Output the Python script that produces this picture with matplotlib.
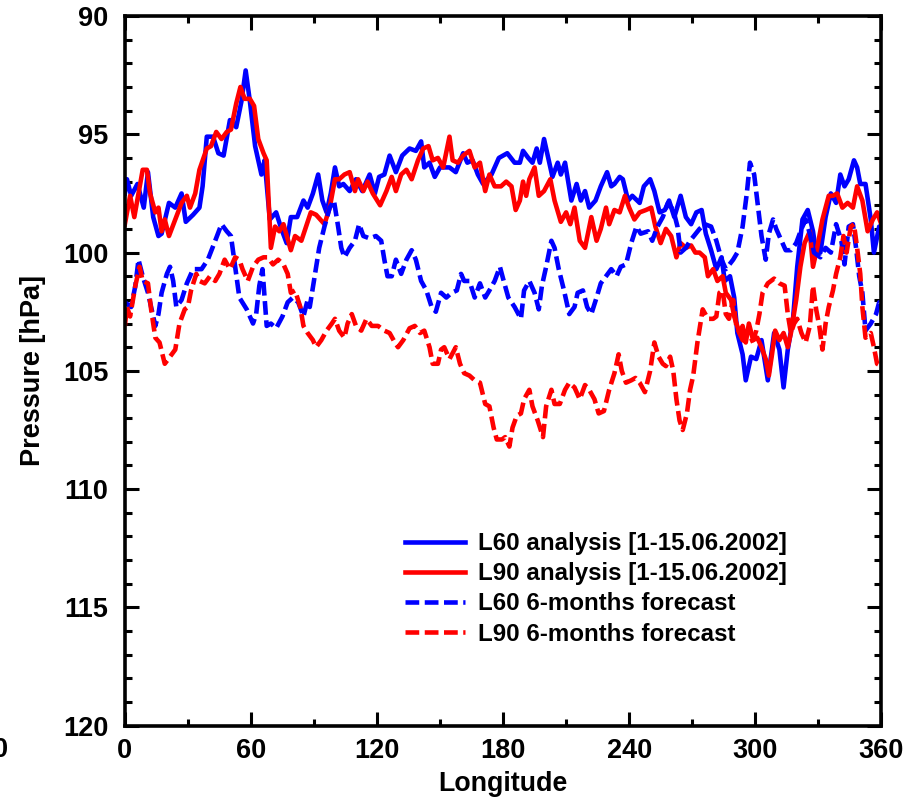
import matplotlib
matplotlib.use('Agg')
import matplotlib.pyplot as plt
from matplotlib.ticker import MultipleLocator

plt.rcParams['font.family'] = ['Liberation Sans', 'DejaVu Sans']
plt.rcParams['font.weight'] = 'bold'

# L60 analysis [1-15.06.2002]
lon_l60_an = [0, 1, 3, 6, 9, 11, 13.5, 16, 17.5, 21, 24, 27, 29, 32.5, 35.5, 37, 39, 42, 44.5, 47,
              50, 53, 55.5, 57.5, 59.5, 62, 65, 66.5, 69, 72, 74.5, 77, 79, 82, 85, 87, 89.5, 92,
              94, 96, 98, 100, 102, 104, 107, 110, 113, 116.5, 119, 121, 123.5, 126, 129, 132,
              135.5, 138.5, 141, 142.5, 145, 147.5, 150, 154.5, 157.5, 161, 163, 165.5, 168, 170.5,
              174.5, 178, 182, 185.5, 188, 189.5, 192, 194, 196, 197.5, 199.5, 201, 203.5, 206,
              207.5, 209.5, 212.5, 215, 217, 219, 221, 224, 226.5, 229.5, 231.5, 233, 235.5, 237,
              239.5, 241.5, 245, 247, 250, 252, 254.5, 257, 259, 261.5, 264.5, 267, 269.5, 272,
              274.5, 276.5, 279, 281.5, 284, 285.5, 288, 290, 291.5, 294, 295.5, 298, 300.5, 303,
              306, 309, 311.5, 313.5, 315.5, 318, 320, 322.5, 325, 327.5, 329, 331, 333.5, 336,
              338.5, 340.5, 342.5, 344.5, 347, 348.5, 350, 352.5, 355, 356.5, 359, 360]
p_l60_an = [97.5, 96.9, 97.6, 97.1, 98.1, 96.6, 98.5, 99.3, 99.2, 97.9, 98.1, 97.5, 98.7, 98.4, 98.1,
            97.2, 95.1, 95.1, 95.8, 95.9, 94.4, 94.7, 93.6, 92.3, 93.6, 95.5, 96.7, 96.1, 98.6, 98.3,
            99.0, 99.6, 98.5, 98.5, 97.8, 98.1, 97.5, 96.7, 97.8, 98.3, 97.5, 96.4, 97.2, 97.1, 97.4,
            96.9, 97.4, 96.7, 97.5, 96.8, 96.7, 95.9, 96.6, 95.9, 95.6, 95.7, 95.3, 96.4, 96.2, 96.8,
            96.4, 96.4, 96.6, 95.8, 96.2, 96.1, 96.7, 97.1, 96.7, 96.0, 95.8, 96.2, 96.2, 95.7, 96.0,
            96.2, 95.6, 96.2, 95.2, 95.8, 96.8, 96.2, 96.7, 96.2, 97.8, 97.1, 97.8, 97.4, 98.1, 97.8,
            97.2, 96.6, 97.2, 97.1, 96.8, 96.9, 97.8, 97.6, 97.9, 97.2, 96.9, 97.4, 98.3, 98.2, 97.8,
            98.5, 97.6, 98.5, 98.8, 98.3, 98.2, 99.2, 99.9, 100.7, 100.2, 101.2, 101.0, 101.9, 103.4,
            104.3, 105.4, 104.4, 104.5, 103.7, 105.4, 103.4, 104.1, 105.7, 104.1, 102.8, 100.6, 98.6,
            98.2, 99.1, 100.0, 100.0, 98.5, 97.5, 97.9, 96.7, 97.2, 96.9, 96.1, 96.4, 97.1, 97.1,
            98.6, 100.0, 98.9, 98.9]

# L90 analysis [1-15.06.2002]
lon_l90_an = [0, 2.5, 4.5, 6.5, 8.5, 10.5, 12, 14.5, 16, 17.5, 19, 21, 24, 27, 29.5, 31, 33.5, 35.5,
              39, 41, 43.5, 46, 48.5, 50.5, 53, 55, 57, 59.5, 61.5, 63.5, 66, 67.5, 69.5, 71.5, 73.5,
              75.5, 79, 81, 84, 85.5, 88.5, 91, 95, 97.5, 100, 102, 104.5, 107, 109.5, 111, 113.5,
              115.5, 118, 121.5, 124.5, 127, 129, 131.5, 134, 136.5, 139.5, 142, 144.5, 146.5, 149,
              151.5, 154.5, 156, 158.5, 161, 164, 166.5, 169, 171.5, 173.5, 176, 179, 181.5, 184,
              186, 188, 189.5, 191, 192.5, 195, 197, 199.5, 202.5, 204.5, 207.5, 210, 212, 214,
              216.5, 219, 222, 224.5, 226.5, 229, 230.5, 233, 235.5, 238, 240, 242.5, 245, 248,
              250.5, 252.5, 255, 257.5, 260, 262.5, 264.5, 267, 269.5, 271.5, 273.5, 276, 277.5,
              280, 282, 284.5, 286, 288.5, 290, 292.5, 294, 295.5, 297, 299, 301, 303, 305, 306.5,
              308, 309.5, 311.5, 313.5, 315.5, 317, 319.5, 321.5, 323.5, 326, 327.5, 329.5, 332,
              333.5, 335, 337, 339, 341.5, 344, 346.5, 348.5, 351, 353.5, 356, 358, 360]
p_l90_an = [98.8, 97.6, 98.5, 97.5, 96.5, 96.5, 97.5, 98.3, 98.1, 99.1, 98.6, 99.3, 98.6, 97.9, 97.6,
            98.1, 97.5, 96.5, 95.6, 95.5, 94.9, 95.2, 94.9, 94.8, 93.7, 93.0, 93.5, 93.5, 93.8, 95.2,
            95.8, 96.1, 99.8, 98.9, 99.1, 98.8, 99.9, 99.3, 99.5, 99.1, 98.3, 98.4, 98.8, 98.1, 96.9,
            96.9, 96.7, 96.6, 97.4, 96.9, 97.4, 97.0, 97.5, 98.0, 97.4, 96.8, 97.4, 96.7, 96.5, 96.9,
            96.1, 95.6, 95.5, 96.1, 96.0, 96.4, 95.1, 96.1, 96.2, 95.9, 95.7, 96.4, 96.2, 97.4, 96.7,
            97.2, 97.2, 97.0, 97.2, 98.2, 97.8, 97.0, 97.6, 96.9, 96.4, 97.6, 97.4, 96.9, 97.8, 98.7,
            98.3, 98.8, 98.1, 99.5, 99.8, 98.5, 99.5, 99.0, 98.1, 98.8, 98.2, 98.3, 97.6, 98.1, 98.6,
            98.3, 98.2, 98.1, 98.9, 99.6, 99.0, 99.3, 100.2, 99.6, 99.8, 99.7, 100.0, 100.0, 100.2,
            101.0, 100.7, 101.2, 101.0, 101.7, 102.0, 102.7, 103.4, 103.1, 103.8, 103.0, 103.7,
            103.6, 104.0, 104.5, 105.2, 104.3, 103.3, 103.7, 103.4, 104.0, 103.4, 102.0, 100.6,
            99.6, 99.1, 100.6, 99.8, 98.6, 98.1, 97.6, 97.6, 97.5, 98.1, 97.9, 98.1, 97.2, 97.8,
            99.1, 98.6, 98.3, 98.8]

# L60 6-months forecast
lon_l60_fc = [0, 3, 5, 6.5, 8.5, 11, 12.5, 14.5, 16, 17.5, 20, 21.5, 23, 24.5, 27, 29.5, 32.5, 36.5,
              39.5, 43, 46, 48.5, 50.5, 52.5, 54.5, 58, 61, 62.5, 64, 65.5, 67.5, 69.5, 72, 75,
              77.5, 80, 82.5, 85, 87, 88, 90.5, 92.5, 95, 97.5, 99.5, 101.5, 103, 104.5, 107, 109.5,
              111.5, 113.5, 116.5, 119.5, 122, 123.5, 125, 127, 129, 131.5, 134, 136.5, 138.5, 141,
              143.5, 146, 148, 150.5, 153, 155.5, 158, 160, 161.5, 164, 166.5, 169, 171.5, 173.5,
              176, 178.5, 180, 182.5, 185.5, 188.5, 190, 192.5, 195, 197, 198.5, 200.5, 203, 204.5,
              206.5, 209, 211.5, 214, 215.5, 218, 220, 222, 224.5, 226.5, 229, 231.5, 234, 236, 238.5,
              241, 243.5, 245.5, 249, 251, 253.5, 256, 258.5, 261, 263, 264.5, 267, 269, 273.5, 276,
              279, 281.5, 284, 286, 289.5, 291.5, 294, 296, 297.5, 299.5, 301, 303, 305, 306.5, 308.5,
              310, 312.5, 314.5, 317, 319.5, 322, 324, 326, 328, 331, 333.5, 336, 338.5, 341, 342.5,
              344.5, 346.5, 348, 349.5, 351, 352.5, 355, 357.5, 359, 360]
p_l60_fc = [102.1, 102.3, 101.4, 100.3, 101.0, 101.7, 102.3, 103.1, 102.6, 101.7, 100.9, 100.6, 101.2,
            102.3, 102.0, 101.3, 100.7, 100.7, 100.3, 99.5, 98.8, 99.1, 99.3, 100.6, 101.9, 102.4,
            103.0, 102.6, 101.4, 100.7, 103.1, 103.0, 103.2, 102.7, 102.1, 101.9, 102.1, 102.7,
            102.0, 102.3, 100.9, 99.8, 98.9, 98.1, 97.8, 98.9, 99.8, 100.2, 99.8, 99.5, 98.8, 99.3,
            99.4, 99.3, 99.5, 100.3, 101.0, 101.0, 100.3, 100.9, 100.3, 99.9, 100.3, 101.2, 101.6,
            102.3, 102.5, 101.7, 101.9, 101.7, 101.6, 100.9, 101.2, 101.2, 101.9, 101.3, 101.9,
            101.6, 101.2, 100.6, 101.1, 101.9, 102.3, 102.8, 101.6, 101.2, 101.7, 102.4, 101.4,
            100.6, 99.5, 99.8, 100.7, 101.6, 102.6, 102.3, 101.7, 101.6, 102.3, 102.6, 101.9, 101.3,
            101.0, 100.7, 101.0, 100.6, 100.5, 99.6, 98.9, 99.2, 99.1, 99.5, 98.9, 98.5, 97.9, 98.2,
            98.9, 100.0, 99.8, 99.5, 99.0, 98.8, 98.9, 99.5, 100.3, 100.7, 100.3, 100.0, 98.9, 97.5,
            96.2, 96.7, 97.8, 99.3, 100.3, 99.2, 98.6, 99.0, 99.5, 99.9, 99.9, 99.6, 99.0, 98.6,
            99.2, 100.0, 100.2, 99.8, 100.0, 98.8, 99.5, 100.5, 98.9, 98.8, 99.8, 101.0, 101.7,
            103.3, 103.0, 102.6, 102.1, 102.2]

# L90 6-months forecast
lon_l90_fc = [0, 1, 2.5, 5, 7, 8.5, 11, 12.5, 14.5, 16.5, 19, 21.5, 24, 26, 28.5, 30, 31.5, 34, 35.5,
              38, 40.5, 43, 45, 47.5, 50, 52.5, 54.5, 56, 58.5, 61, 63.5, 66, 68, 70.5, 73, 75.5,
              77.5, 79, 81, 83.5, 85, 87, 89.5, 91, 93.5, 96, 98.5, 100, 102, 104.5, 106, 108, 110,
              112.5, 115, 117.5, 120.5, 123.5, 126, 128.5, 130, 132.5, 135.5, 138, 140.5, 142.5, 145,
              146.5, 149, 150.5, 152, 154.5, 157.5, 159.5, 161.5, 164, 166.5, 169, 171.5, 173.5,
              175.5, 177, 179.5, 181, 183, 184.5, 186.5, 188.5, 190, 192.5, 194, 196.5, 199, 200.5,
              203, 204.5, 207, 209.5, 211.5, 214, 216.5, 219, 221, 223.5, 225.5, 228, 230.5, 233,
              235, 236.5, 238.5, 241, 243, 245, 247.5, 250, 252, 254, 256, 257.5, 259.5, 261, 262.5,
              264, 265.5, 267.5, 269, 270.5, 272.5, 275, 277.5, 280, 281.5, 283, 284.5, 286, 287.5,
              289.5, 291, 292.5, 294, 296.5, 299, 300.5, 302, 303.5, 306, 309, 311.5, 314, 315.5,
              317, 318.5, 320, 322, 324, 326, 327.5, 329, 330.5, 332, 333.5, 335, 337, 338.5, 340.5,
              342, 343.5, 345.5, 347, 348.5, 350, 351, 352.5, 355, 356.5, 358, 360]
p_l90_fc = [103.1, 102.3, 102.7, 101.4, 100.6, 101.2, 101.3, 102.4, 103.6, 103.8, 104.7, 104.4, 104.1,
            103.0, 102.4, 102.3, 101.6, 100.9, 101.2, 101.3, 101.0, 101.2, 100.9, 100.3, 100.7,
            100.2, 100.3, 100.7, 101.2, 100.6, 100.3, 100.2, 100.2, 100.5, 100.3, 100.5, 100.9,
            101.7, 101.6, 102.3, 103.1, 103.4, 103.7, 104.0, 103.7, 103.3, 103.0, 102.8, 103.3,
            103.6, 103.0, 102.6, 103.1, 103.3, 102.8, 103.1, 103.1, 103.3, 103.4, 103.8, 104.0,
            103.7, 103.2, 103.1, 103.4, 103.3, 104.0, 104.7, 104.7, 104.1, 104.0, 104.5, 104.0,
            104.7, 105.1, 105.2, 105.4, 105.5, 106.4, 106.5, 107.4, 107.9, 107.9, 107.8, 108.2,
            107.4, 106.9, 106.8, 106.2, 105.8, 106.5, 107.1, 107.8, 106.5, 105.8, 106.4, 106.4,
            105.8, 105.5, 105.7, 106.2, 105.6, 105.8, 106.2, 106.8, 106.7, 105.8, 105.1, 104.3,
            105.0, 105.5, 105.4, 105.3, 105.5, 105.9, 105.0, 103.8, 104.4, 104.7, 104.8, 104.4,
            105.0, 106.2, 107.1, 107.5, 106.8, 105.8, 105.2, 103.8, 102.4, 102.8, 102.8, 102.7,
            101.7, 101.6, 102.6, 102.8, 102.0, 103.1, 103.4, 103.7, 103.8, 103.7, 103.3, 102.6,
            101.7, 101.3, 101.1, 101.3, 101.4, 102.6, 103.4, 103.0, 102.8, 103.4, 103.8, 103.1,
            101.4, 102.4, 103.1, 104.1, 103.0, 102.3, 101.6, 100.9, 100.2, 99.3, 100.0, 98.9,
            98.8, 99.8, 100.9, 102.3, 103.6, 103.4, 104.0, 104.7, 104.8]

fig = plt.figure(figsize=(9.18, 8.01), dpi=100)
ax = fig.add_axes([0.136, 0.094, 0.824, 0.886])

lw = 3.3
dash = (3.0, 1.2)
ax.plot(lon_l60_an, p_l60_an, color='#0000ff', lw=lw, label='L60 analysis [1-15.06.2002]')
ax.plot(lon_l90_an, p_l90_an, color='#ff0000', lw=lw, label='L90 analysis [1-15.06.2002]')
ax.plot(lon_l60_fc, p_l60_fc, color='#0000ff', lw=lw, dashes=dash, label='L60 6-months forecast')
ax.plot(lon_l90_fc, p_l90_fc, color='#ff0000', lw=lw, dashes=dash, label='L90 6-months forecast')

ax.set_xlim(0, 360)
ax.set_ylim(120, 90)
ax.xaxis.set_major_locator(MultipleLocator(60))
ax.xaxis.set_minor_locator(MultipleLocator(30))
ax.yaxis.set_major_locator(MultipleLocator(5))
ax.yaxis.set_minor_locator(MultipleLocator(1))

for s in ax.spines.values():
    s.set_linewidth(2.6)
ax.tick_params(which='both', direction='in', top=True, right=True, width=2.2)
ax.tick_params(which='major', length=10)
ax.tick_params(which='minor', length=5)
ax.tick_params(axis='x', which='major', pad=9, labelsize=19.5)
ax.tick_params(axis='y', which='major', pad=12, labelsize=19.5)
for lab in ax.get_xticklabels() + ax.get_yticklabels():
    lab.set_fontweight('bold')

ax.set_xlabel('Longitude', fontsize=19.3, fontweight='bold', labelpad=5)
ax.set_ylabel('Pressure [hPa]', fontsize=19.5, fontweight='bold', labelpad=12)

leg = ax.legend(loc='upper left', bbox_to_anchor=(0.370, 0.273), frameon=False,
                prop={'size': 17.4, 'weight': 'bold'}, handlelength=2.48,
                handletextpad=0.54, labelspacing=0.3, borderpad=0, borderaxespad=0)

fig.text(0.0, 1 - 750 / 801, '0', ha='center', va='center', fontsize=19.5, fontweight='bold')

fig.savefig('out.png', dpi=100)
